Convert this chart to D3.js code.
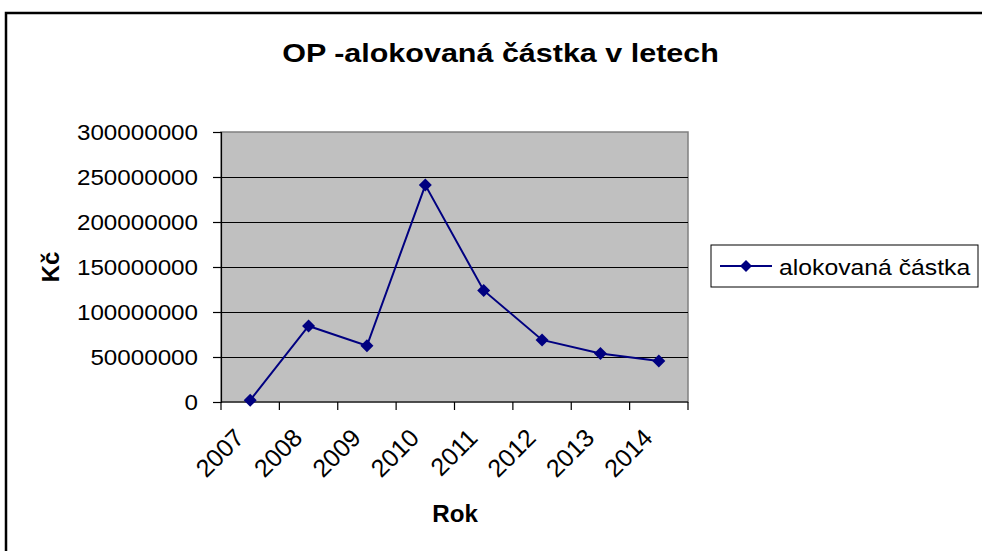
<!DOCTYPE html>
<html>
<head>
<meta charset="utf-8">
<script src="https://cdn.jsdelivr.net/npm/d3@7"></script>
<style>
  html, body { margin: 0; padding: 0; background: #fff; }
  svg { display: block; font-family: "Liberation Sans", Arial, sans-serif; }
</style>
</head>
<body>
<svg id="chart" width="982" height="551"></svg>
<script>
// Allocated amounts per year (CZK)
const years = ["2007", "2008", "2009", "2010", "2011", "2012", "2013", "2014"];
const amounts = [2000000, 84500000, 62500000, 241000000, 124000000, 69000000, 54000000, 45500000];
const yTicks = [0, 50000000, 100000000, 150000000, 200000000, 250000000, 300000000];

const seriesName = "alokovaná částka";
const titleText = "OP -alokovaná částka v letech";
const xTitle = "Rok";
const yTitle = "Kč";

const svg = d3.select("#chart");
const plot = { left: 221, right: 688, top: 132, bottom: 402 };
const wide = 1.1; // slightly widened lettering

// Outer chart frame (runs off the right and bottom edges)
svg.append("rect")
  .attr("x", 6).attr("y", 13)
  .attr("width", 1000).attr("height", 600)
  .attr("fill", "none").attr("stroke", "#000").attr("stroke-width", 2.5);

const x = d3.scaleBand().domain(years).range([plot.left, plot.right]).paddingInner(0).paddingOuter(0);
const y = d3.scaleLinear().domain([0, 300000000]).range([plot.bottom, plot.top]);

// Plot area background
svg.append("rect")
  .attr("x", plot.left).attr("y", plot.top)
  .attr("width", plot.right - plot.left).attr("height", plot.bottom - plot.top)
  .attr("fill", "#c0c0c0").attr("stroke", "#808080").attr("stroke-width", 1.5);

// Horizontal gridlines
svg.append("g")
  .selectAll("line")
  .data(yTicks.filter(d => d > 0 && d < 300000000))
  .join("line")
  .attr("x1", plot.left).attr("x2", plot.right)
  .attr("y1", d => Math.round(y(d)) + 0.5).attr("y2", d => Math.round(y(d)) + 0.5)
  .attr("stroke", "#000").attr("stroke-width", 1);

// Y axis
const yAxis = svg.append("g")
  .attr("transform", `translate(${plot.left},0)`)
  .call(d3.axisLeft(y).tickValues(yTicks).tickFormat(d3.format("d")).tickSizeOuter(0).tickSize(8).tickPadding(15));
yAxis.select(".domain").attr("stroke", "#000").attr("stroke-width", 1.2);
yAxis.selectAll(".tick line").attr("stroke", "#000").attr("stroke-width", 1.2);
yAxis.selectAll(".tick text")
  .attr("font-size", 22).attr("fill", "#000")
  .attr("font-family", "Liberation Sans, Arial, sans-serif")
  .attr("x", -23 / wide)
  .attr("transform", `scale(${wide},1)`);

// X axis: ticks at category boundaries
const boundaries = years.map(d => x(d)).concat([plot.right]);
const xAxisG = svg.append("g");
xAxisG.append("line")
  .attr("x1", plot.left).attr("x2", plot.right)
  .attr("y1", plot.bottom).attr("y2", plot.bottom)
  .attr("stroke", "#000").attr("stroke-width", 1.2);
xAxisG.selectAll("line.tk")
  .data(boundaries)
  .join("line").attr("class", "tk")
  .attr("x1", d => d).attr("x2", d => d)
  .attr("y1", plot.bottom).attr("y2", plot.bottom + 8)
  .attr("stroke", "#000").attr("stroke-width", 1.2);
xAxisG.selectAll("text")
  .data(years)
  .join("text")
  .attr("transform", d => `translate(${x(d) + x.bandwidth() / 2 - 17},${plot.bottom + 25}) rotate(-45)`)
  .attr("text-anchor", "end")
  .attr("dy", "0.7em")
  .attr("font-size", 25)
  .attr("fill", "#000")
  .text(d => d);

// Series line
const line = d3.line()
  .x((d, i) => x(years[i]) + x.bandwidth() / 2)
  .y(d => y(d));
svg.append("path")
  .datum(amounts)
  .attr("d", line)
  .attr("fill", "none")
  .attr("stroke", "#000080")
  .attr("stroke-width", 2);

// Diamond markers
const diamond = s => `M0,${-s}L${s},0L0,${s}L${-s},0Z`;
svg.append("g")
  .selectAll("path")
  .data(amounts)
  .join("path")
  .attr("transform", (d, i) => `translate(${x(years[i]) + x.bandwidth() / 2},${y(d)})`)
  .attr("d", diamond(6.5))
  .attr("fill", "#000080");

// Title
svg.append("text")
  .attr("transform", "translate(500.5,62) scale(1.22,1)")
  .attr("text-anchor", "middle")
  .attr("font-size", 25).attr("font-weight", "bold")
  .attr("fill", "#000")
  .text(titleText);

// Axis titles
svg.append("text")
  .attr("transform", "translate(59,267) rotate(-90)")
  .attr("text-anchor", "middle")
  .attr("font-size", 24).attr("font-weight", "bold")
  .attr("fill", "#000")
  .text(yTitle);

svg.append("text")
  .attr("transform", "translate(455,522) scale(1.05,1)")
  .attr("text-anchor", "middle")
  .attr("font-size", 23).attr("font-weight", "bold")
  .attr("fill", "#000")
  .text(xTitle);

// Legend
const lg = svg.append("g");
lg.append("rect")
  .attr("x", 711).attr("y", 245).attr("width", 267).attr("height", 42)
  .attr("fill", "#fff").attr("stroke", "#000").attr("stroke-width", 1);
lg.append("line")
  .attr("x1", 720).attr("x2", 772).attr("y1", 266).attr("y2", 266)
  .attr("stroke", "#000080").attr("stroke-width", 2);
lg.append("path")
  .attr("transform", "translate(746,266)")
  .attr("d", diamond(6))
  .attr("fill", "#000080");
lg.append("text")
  .attr("transform", `translate(779,274.5) scale(${wide},1)`)
  .attr("font-size", 22.5)
  .attr("fill", "#000")
  .text(seriesName);
</script>
</body>
</html>
